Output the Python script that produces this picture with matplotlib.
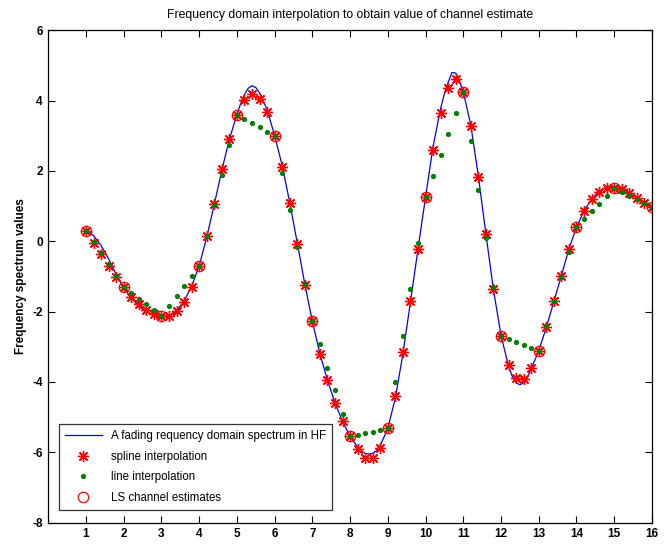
"""
Frequency domain interpolation of LS channel estimates (MATLAB-style figure).
"""
import matplotlib
matplotlib.use('Agg')
import matplotlib.pyplot as plt
import numpy as np

plt.rcParams['font.family'] = ['Liberation Sans', 'DejaVu Sans']
plt.rcParams['axes.unicode_minus'] = False

# ── Data ──────────────────────────────────────────────────────────────────────
# LS channel estimates at the pilot positions 1..16
ls_x = list(range(1, 17))
ls_y = [0.3, -1.3, -2.12, -0.7, 3.6, 3.0, -2.28, -5.55, -5.32, 1.26,
        4.24, -2.68, -3.12, 0.4, 1.52, 0.97]

# interpolated points, step 0.2 from 1 to 16
interp_x = [1.0, 1.2, 1.4, 1.6, 1.8, 2.0, 2.2, 2.4, 2.6, 2.8,
            3.0, 3.2, 3.4, 3.6, 3.8, 4.0, 4.2, 4.4, 4.6, 4.8,
            5.0, 5.2, 5.4, 5.6, 5.8, 6.0, 6.2, 6.4, 6.6, 6.8,
            7.0, 7.2, 7.4, 7.6, 7.8, 8.0, 8.2, 8.4, 8.6, 8.8,
            9.0, 9.2, 9.4, 9.6, 9.8, 10.0, 10.2, 10.4, 10.6, 10.8,
            11.0, 11.2, 11.4, 11.6, 11.8, 12.0, 12.2, 12.4, 12.6, 12.8,
            13.0, 13.2, 13.4, 13.6, 13.8, 14.0, 14.2, 14.4, 14.6, 14.8,
            15.0, 15.2, 15.4, 15.6, 15.8, 16.0]

spline_y = [0.3, -0.06, -0.36, -0.69, -1.01, -1.3, -1.58, -1.77, -1.95, -2.07,
            -2.12, -2.13, -1.98, -1.72, -1.31, -0.7, 0.16, 1.06, 2.04, 2.90,
            3.6, 4.01, 4.18, 4.04, 3.67, 3.0, 2.12, 1.08, -0.08, -1.23,
            -2.28, -3.21, -3.94, -4.61, -5.11, -5.55, -5.91, -6.15, -6.17, -5.88,
            -5.32, -4.40, -3.16, -1.70, -0.23, 1.26, 2.59, 3.66, 4.37, 4.60,
            4.24, 3.28, 1.83, 0.20, -1.37, -2.68, -3.52, -3.90, -3.92, -3.59,
            -3.12, -2.43, -1.70, -0.99, -0.22, 0.40, 0.87, 1.19, 1.41, 1.52,
            1.52, 1.48, 1.36, 1.22, 1.08, 0.97]

line_y = [0.3, -0.02, -0.34, -0.66, -0.98, -1.3, -1.46, -1.63, -1.79, -1.96,
          -2.12, -1.84, -1.55, -1.27, -0.98, -0.7, 0.16, 1.02, 1.88, 2.74,
          3.6, 3.48, 3.36, 3.24, 3.12, 3.0, 1.94, 0.89, -0.17, -1.22,
          -2.28, -2.93, -3.59, -4.24, -4.90, -5.55, -5.50, -5.46, -5.41, -5.37,
          -5.32, -4.00, -2.69, -1.37, -0.06, 1.26, 1.86, 2.45, 3.05, 3.64,
          4.24, 2.86, 1.47, 0.09, -1.30, -2.68, -2.77, -2.86, -2.94, -3.03,
          -3.12, -2.42, -1.71, -1.01, -0.30, 0.40, 0.62, 0.85, 1.07, 1.30,
          1.52, 1.41, 1.30, 1.19, 1.08, 0.97]

# "true" fading spectrum (denser near the extremes)
true_x = [1.0, 1.1, 1.2, 1.4, 1.6, 1.8, 2.0, 2.2, 2.4, 2.6, 2.8, 3.0, 3.2,
          3.4, 3.6, 3.8, 4.0, 4.2, 4.4, 4.6, 4.8, 5.0, 5.1, 5.2, 5.3, 5.4,
          5.5, 5.6, 5.7, 5.8, 6.0, 6.2, 6.4, 6.6, 6.8, 7.0, 7.2, 7.4, 7.6,
          7.8, 8.0, 8.2, 8.3, 8.4, 8.5, 8.6, 8.7, 8.8, 9.0, 9.2, 9.4, 9.6,
          9.8, 10.0, 10.2, 10.4, 10.5, 10.6, 10.7, 10.8, 10.9, 11.0, 11.2,
          11.4, 11.6, 11.8, 12.0, 12.2, 12.3, 12.4, 12.5, 12.6, 12.7, 12.8,
          13.0, 13.2, 13.4, 13.6, 13.8, 14.0, 14.2, 14.4, 14.6, 14.8, 15.0,
          15.2, 15.4, 15.6, 15.8, 16.0]
true_y = [0.3, 0.26, 0.16, -0.12, -0.5, -0.95, -1.32, -1.62, -1.85, -2.0,
          -2.1, -2.15, -2.12, -1.98, -1.7, -1.28, -0.7, 0.12, 1.05, 2.02,
          2.9, 3.6, 3.92, 4.17, 4.35, 4.42, 4.37, 4.22, 3.98, 3.74, 3.0,
          2.15, 1.1, -0.05, -1.22, -2.28, -3.2, -3.95, -4.6, -5.12, -5.55,
          -5.85, -5.97, -6.03, -6.05, -6.03, -5.95, -5.8, -5.32, -4.45, -3.2,
          -1.72, -0.22, 1.26, 2.7, 3.78, 4.2, 4.52, 4.8, 4.78, 4.55, 4.24,
          3.3, 1.85, 0.2, -1.38, -2.68, -3.55, -3.85, -4.02, -4.08, -4.02,
          -3.88, -3.62, -3.12, -2.45, -1.72, -0.98, -0.22, 0.4, 0.86, 1.2,
          1.42, 1.54, 1.54, 1.48, 1.37, 1.23, 1.1, 0.97]

x_ticks = list(range(1, 17))
y_ticks = list(range(-8, 7, 2))

# ── Figure ────────────────────────────────────────────────────────────────────
fig = plt.figure(figsize=(6.67, 5.46), dpi=100)
ax = fig.add_axes([0.0724, 0.0427, 0.905, 0.902])

ax.plot(true_x, true_y, color='#0000FF', lw=0.9,
        label='A fading requency domain spectrum in HF')
# MATLAB-like asterisk: plus plus cross
ax.plot(interp_x, spline_y, ls='none', marker=(8, 2, 0), color='red', ms=8,
        mew=1.0, label='spline interpolation')
ax.plot(interp_x, line_y, ls='none', marker='.', color='#008000', ms=5.5,
        label='line interpolation')
ax.plot(ls_x, ls_y, ls='none', marker='o', mfc='none', mec='red', ms=7.5,
        mew=0.9, label='LS channel estimates')

ax.set_xlim(0, 16)
ax.set_ylim(-8, 6)
ax.set_xticks(x_ticks)
ax.set_yticks(y_ticks)
ax.tick_params(direction='in', top=True, right=True, length=5, width=0.8,
               labelsize=8.5, pad=4)
for lbl in ax.get_xticklabels() + ax.get_yticklabels():
    lbl.set_fontweight('bold')
for spine in ax.spines.values():
    spine.set_linewidth(0.9)

ax.set_ylabel('Frequency spectrum values', fontsize=8.5, fontweight='bold',
              labelpad=4)
ax.set_title('Frequency domain interpolation to obtain value of channel estimate',
             fontsize=8.8, pad=9)

leg = ax.legend(loc='lower left', bbox_to_anchor=(0.017, 0.025), fontsize=8.3,
                frameon=True, fancybox=False, edgecolor='black',
                borderpad=0.55, labelspacing=0.75, handlelength=3.2,
                borderaxespad=0.0)
leg.get_frame().set_linewidth(0.9)

fig.savefig('out.png', dpi=100, facecolor='white')
